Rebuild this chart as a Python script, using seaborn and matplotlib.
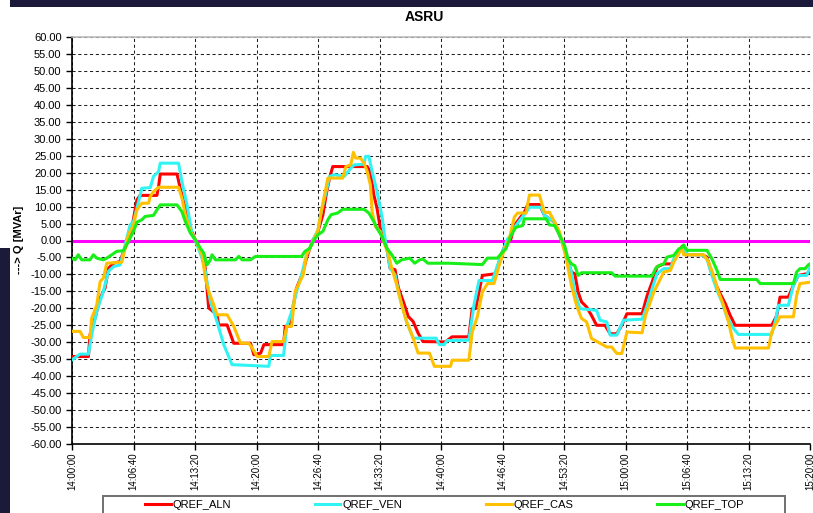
import matplotlib
matplotlib.use("Agg")
import matplotlib.pyplot as plt
import matplotlib.patches as mpatches
from matplotlib.ticker import FuncFormatter
import seaborn as sns
import pandas as pd

# ---------------- data (seconds after 14:00:00, MVAr) ----------------
t_aln = [0, 107, 117, 150, 183, 215, 237, 270, 313, 335, 367, 389, 422, 443, 552, 563, 574, 683, 704, 737,
         770, 802, 835, 867, 889, 943, 954, 1009, 1052, 1161, 1183, 1227, 1248, 1376, 1387, 1419, 1440, 1461,
         1504, 1525, 1547, 1568, 1600, 1632, 1653, 1675, 1696, 1920, 1941, 1963, 1984, 2005, 2027, 2048, 2069,
         2101, 2123, 2155, 2187, 2219, 2251, 2283, 2428, 2472, 2581, 2603, 2625, 2669, 2756, 2789, 2822, 2855,
         2877, 2909, 2942, 2964, 3040, 3073, 3139, 3172, 3204, 3248, 3270, 3292, 3314, 3347, 3379, 3412, 3467,
         3500, 3543, 3576, 3609, 3708, 3741, 3773, 3805, 3849, 3903, 3924, 3946, 3968, 3989, 4097, 4130, 4151,
         4184, 4216, 4249, 4281, 4313, 4551, 4584, 4605, 4659, 4692, 4724, 4778, 4800]
q_aln = [-34.2, -34.2, -27.8, -22.9, -17.0, -14.0, -8.2, -6.7, -6.2, -3.2, 0.2, 3.6, 12.0, 13.3, 13.3, 15.9,
         19.6, 19.6, 15.4, 9.5, 3.6, 0.2, -3.2, -8.2, -19.9, -21.9, -24.9, -24.9, -30.3, -30.3, -33.7, -33.2,
         -30.7, -30.7, -25.3, -25.3, -19.0, -14.0, -9.1, -5.2, -2.3, 0.2, 2.7, 7.6, 13.5, 18.4, 21.8, 21.8, 20.3,
         13.5, 9.5, 3.6, 0.2, -2.3, -8.2, -8.6, -14.0, -18.0, -22.4, -23.9, -27.3, -29.8, -29.9, -28.4, -28.4,
         -20.1, -20.1, -10.3, -9.8, -4.4, -1.0, 0.5, 4.4, 6.4, 8.3, 10.6, 10.6, 7.4, 5.4, 1.5, -2.5, -9.3, -9.8,
         -15.2, -18.1, -19.6, -22.1, -25.0, -25.0, -27.5, -27.5, -25.0, -21.6, -21.6, -16.2, -12.3, -7.8, -6.9,
         -6.9, -4.9, -3.4, -1.7, -4.2, -4.2, -4.9, -8.3, -12.7, -15.7, -18.6, -22.1, -25.0, -25.0, -22.1, -16.7,
         -16.7, -13.2, -10.3, -9.8, -9.3]

t_ven = [0, 52, 107, 128, 161, 204, 237, 270, 313, 335, 378, 400, 422, 454, 509, 530, 563, 574, 693, 715,
         748, 780, 813, 846, 867, 900, 943, 987, 1041, 1280, 1291, 1376, 1397, 1429, 1461, 1493, 1525, 1547,
         1568, 1600, 1621, 1653, 1675, 1707, 1771, 1813, 1835, 1899, 1909, 1931, 1952, 1984, 2016, 2037, 2069,
         2101, 2133, 2176, 2219, 2368, 2389, 2421, 2440, 2581, 2614, 2647, 2734, 2767, 2800, 2833, 2855, 2887,
         2920, 2953, 2975, 3051, 3073, 3139, 3172, 3215, 3248, 3270, 3303, 3412, 3434, 3478, 3500, 3543, 3587,
         3708, 3741, 3773, 3805, 3849, 3892, 3914, 3946, 3968, 3989, 4011, 4097, 4130, 4162, 4195, 4227, 4259,
         4303, 4335, 4551, 4573, 4595, 4659, 4692, 4724, 4778, 4800]
q_ven = [-35.2, -33.5, -33.5, -27.8, -20.9, -15.0, -9.1, -7.7, -7.2, -3.2, 4.6, 5.6, 9.5, 15.4, 15.6, 18.9,
         20.3, 22.8, 22.8, 17.4, 10.5, 2.2, -1.3, -5.2, -9.1, -18.0, -23.9, -30.7, -36.6, -37.1, -33.9, -33.9,
         -25.3, -20.9, -15.0, -10.1, -4.2, -2.3, 0.2, 3.1, 8.5, 14.4, 18.9, 19.4, 18.9, 21.3, 22.3, 22.5, 24.8,
         24.8, 20.3, 14.4, 7.1, 0.2, -8.2, -10.1, -17.0, -23.9, -28.8, -28.8, -30.7, -30.7, -29.5, -29.4,
         -19.1, -11.8, -11.8, -7.4, -3.4, 0.5, 1.5, 4.4, 6.4, 8.3, 9.8, 9.8, 7.4, 5.4, 1.5, -4.4, -9.3, -15.2,
         -20.1, -20.6, -23.5, -24.0, -27.9, -27.9, -23.5, -23.2, -19.1, -14.2, -9.8, -8.3, -8.3, -5.4, -3.9,
         -2.0, -3.4, -4.2, -4.2, -5.4, -10.3, -14.7, -18.1, -22.5, -26.0, -27.7, -27.7, -24.0, -19.1, -19.1,
         -13.2, -10.3, -10.3, -7.8]

t_cas = [0, 52, 74, 117, 128, 161, 183, 204, 226, 324, 346, 367, 400, 422, 454, 498, 509, 530, 563, 693,
         715, 737, 770, 802, 846, 867, 889, 922, 943, 1009, 1052, 1096, 1150, 1172, 1204, 1280, 1301, 1376,
         1397, 1429, 1451, 1483, 1504, 1525, 1547, 1568, 1600, 1621, 1643, 1664, 1760, 1781, 1813, 1830, 1845,
         1877, 1899, 1920, 1941, 1952, 1973, 2005, 2027, 2059, 2080, 2112, 2144, 2176, 2219, 2251, 2325, 2357,
         2462, 2472, 2581, 2603, 2636, 2669, 2702, 2745, 2778, 2811, 2844, 2877, 2898, 2953, 2975, 3040, 3073,
         3106, 3139, 3172, 3193, 3215, 3248, 3281, 3314, 3347, 3379, 3478, 3510, 3543, 3576, 3609, 3708, 3730,
         3762, 3784, 3816, 3849, 3892, 3914, 3946, 3968, 3978, 4108, 4141, 4173, 4205, 4238, 4270, 4292, 4313,
         4530, 4551, 4573, 4605, 4692, 4713, 4735, 4800]
q_cas = [-26.8, -26.8, -28.6, -28.6, -22.9, -19.0, -12.1, -11.1, -6.7, -6.4, -2.3, 1.7, 4.6, 9.0, 11.0, 11.0,
         13.0, 14.4, 15.7, 15.7, 12.5, 7.6, 2.7, 0.2, -4.2, -11.1, -15.0, -19.0, -21.9, -21.9, -25.3, -30.3,
         -30.3, -31.7, -34.2, -34.2, -29.8, -29.8, -25.3, -25.3, -15.0, -12.1, -10.1, -4.2, -2.3, -0.3, 3.1,
         8.5, 13.5, 18.4, 18.4, 21.8, 22.3, 26.0, 24.3, 24.3, 22.8, 20.3, 16.3, 8.5, 4.1, 2.7, -0.3, -4.2, -8.2,
         -13.1, -19.0, -23.9, -28.8, -33.2, -33.2, -37.1, -37.1, -35.3, -35.3, -27.0, -22.5, -15.2, -12.7,
         -12.7, -7.4, -2.9, 0.5, 6.9, 8.1, 8.1, 13.4, 13.4, 8.3, 8.3, 5.4, 2.5, -1.5, -5.4, -13.2, -19.1, -23.0,
         -24.0, -28.9, -31.4, -31.4, -33.3, -33.3, -27.0, -27.2, -22.1, -18.1, -15.2, -12.3, -9.3, -8.8, -6.4,
         -3.9, -2.0, -4.2, -4.2, -6.4, -10.3, -15.2, -19.1, -24.0, -28.4, -31.7, -31.7, -27.0, -25.0, -22.5,
         -22.5, -16.2, -12.7, -12.3]

t_top = [0, 20, 41, 63, 117, 139, 161, 204, 226, 259, 291, 335, 367, 400, 422, 454, 476, 530, 552, 574, 683,
         715, 737, 770, 802, 835, 857, 878, 900, 911, 933, 1063, 1085, 1107, 1161, 1193, 1493, 1515, 1547,
         1568, 1600, 1632, 1664, 1685, 1728, 1760, 1899, 1931, 1963, 1984, 2016, 2048, 2080, 2112, 2144, 2197,
         2229, 2261, 2283, 2315, 2453, 2669, 2702, 2767, 2800, 2822, 2855, 2887, 2931, 2942, 3084, 3106, 3139,
         3172, 3204, 3226, 3248, 3270, 3292, 3314, 3510, 3532, 3773, 3795, 3816, 3849, 3870, 3914, 3946, 3968,
         3978, 4000, 4130, 4162, 4195, 4216, 4454, 4476, 4692, 4713, 4735, 4768, 4789, 4800]
q_top = [-5.2, -5.7, -4.2, -5.7, -5.7, -4.2, -5.2, -5.7, -5.2, -4.2, -3.2, -3.0, -0.3, 2.7, 5.4, 6.1, 7.1,
         7.4, 9.0, 10.5, 10.5, 8.5, 5.6, 2.2, 0.2, -2.3, -3.7, -7.2, -5.7, -4.2, -5.7, -5.7, -4.7, -5.7, -5.7,
         -4.7, -4.7, -3.2, -2.3, -0.3, 1.7, 2.7, 6.1, 7.6, 8.1, 9.2, 9.2, 8.1, 5.6, 3.6, 1.2, -2.3, -4.2, -6.7,
         -5.7, -5.2, -6.7, -5.7, -5.5, -6.7, -6.7, -7.1, -5.2, -5.2, -3.4, -2.5, 1.5, 3.9, 4.4, 6.4, 6.4, 4.6,
         4.4, 1.5, -1.5, -5.4, -6.9, -7.4, -10.3, -9.5, -9.5, -10.5, -10.5, -8.3, -7.4, -6.9, -4.9, -4.4, -2.5,
         -2.0, -1.3, -2.9, -2.9, -5.4, -8.8, -11.5, -11.5, -12.7, -12.7, -9.3, -8.3, -8.3, -7.2, -6.9]

series_names = ["QREF_ALN", "QREF_VEN", "QREF_CAS", "QREF_TOP"]
series_colors = ["#FF0000", "#30F4F4", "#FFC000", "#18EE18"]
zero_level = 0.0
x_ticks = list(range(0, 4801, 400))
y_ticks = list(range(-60, 61, 5))

# ---------------- build frame ----------------
frames = []
for name, tt, qq in zip(series_names, [t_aln, t_ven, t_cas, t_top], [q_aln, q_ven, q_cas, q_top]):
    frames.append(pd.DataFrame({"t": tt, "q": qq, "series": name}))
df = pd.concat(frames, ignore_index=True)

W, H = 813, 513
fig = plt.figure(figsize=(W / 100, H / 100), dpi=100)
fig.patch.set_facecolor("white")
ax = fig.add_axes([72 / W, 1 - 444 / H, (810 - 72) / W, (444 - 37) / H])

FONT = ["Liberation Sans", "DejaVu Sans"]
plt.rcParams["font.family"] = FONT

ax.axhline(zero_level, color="#FF00FF", lw=2.2, zorder=2)
sns.lineplot(data=df, x="t", y="q", hue="series", hue_order=series_names,
             palette=dict(zip(series_names, series_colors)), linewidth=2.2,
             estimator=None, sort=False, ax=ax, zorder=3)

ax.set_xlim(0, 4800)
ax.set_ylim(-60, 60)
ax.set_xticks(x_ticks)
ax.set_yticks(y_ticks)


def fmt_time(v, pos):
    s = int(round(v)) + 14 * 3600
    return f"{s // 3600:02d}:{(s % 3600) // 60:02d}:{s % 60:02d}"


ax.xaxis.set_major_formatter(FuncFormatter(fmt_time))
ax.yaxis.set_major_formatter(FuncFormatter(lambda v, p: f"{v:.2f}"))
ax.tick_params(axis="y", direction="out", length=4, width=1, pad=3.5, labelsize=8, colors="black")
ax.tick_params(axis="x", direction="out", length=4, width=1, pad=2, labelsize=7, labelrotation=90)
for lab in ax.get_xticklabels() + ax.get_yticklabels():
    lab.set_family(FONT)
ax.set_xlabel("")
ax.set_ylabel("")

ax.grid(True, color="#202020", linestyle=(0, (3.0, 2.6)), linewidth=0.75)
ax.set_axisbelow(True)
for side in ["left", "bottom"]:
    ax.spines[side].set_color("black")
    ax.spines[side].set_linewidth(1.2)
ax.spines["top"].set_color("#bbbbbb")
ax.spines["top"].set_linewidth(1.2)
ax.spines["right"].set_visible(False)

# legend
handles, labels = ax.get_legend_handles_labels()
ax.get_legend().remove()
fig.legend(handles, labels, ncol=4, mode="expand", loc="upper left",
           bbox_to_anchor=(145 / W, 0, (744 - 145) / W, 13 / H), bbox_transform=fig.transFigure,
           frameon=False, borderpad=0, borderaxespad=0, handlelength=2.3, handletextpad=0.15,
           prop={"family": FONT, "size": 8})
fig.add_artist(mpatches.Rectangle((103 / W, -0.05), (785 - 103) / W, 0.05 + 17 / H,
                                  transform=fig.transFigure, fill=False, edgecolor="#707070", lw=1.4))

# title and y label
fig.text(424 / W, 1 - 17 / H, "ASRU", ha="center", va="center", fontsize=10, fontweight="bold", family=FONT)
fig.text(19 / W, 1 - 240 / H, "---> Q [MVAr]", ha="center", va="center", rotation=90,
         fontsize=8, fontweight="bold", family=FONT)

# dark window border
fig.add_artist(mpatches.Rectangle((10 / W, 1 - 6.5 / H), 1, 6.5 / H, transform=fig.transFigure,
                                  color="#1c1a3b", lw=0))
fig.add_artist(mpatches.Rectangle((0, 0), 10 / W, (H - 248) / H, transform=fig.transFigure,
                                  color="#1c1a3b", lw=0))

fig.savefig("out.png", dpi=100)
